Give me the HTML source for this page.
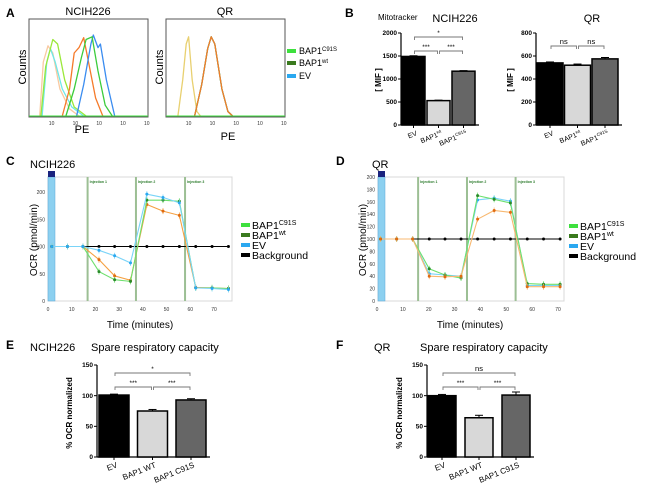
<!DOCTYPE html>
<html><head><meta charset="utf-8"><style>
body{margin:0;background:#fff}
svg{display:block;font-family:"Liberation Sans",sans-serif}
.pl{font-weight:bold;font-size:12px}
.t{font-size:11px}
.tk{font-size:5px;fill:#333}
.tkb{font-size:6.5px;font-weight:bold}
</style></head><body>
<svg id="fig" width="650" height="487" viewBox="0 0 650 487">
<text class="pl" x="6" y="17">A</text>
<text class="t" x="88" y="15" text-anchor="middle">NCIH226</text>
<text class="t" x="225" y="15" text-anchor="middle">QR</text>
<text class="t" x="26" y="67" text-anchor="middle" transform="rotate(-90 26 67)">Counts</text>
<text class="t" x="163" y="67" text-anchor="middle" transform="rotate(-90 163 67)">Counts</text>
<text class="t" x="82" y="133" text-anchor="middle">PE</text>
<text class="t" x="228" y="140" text-anchor="middle">PE</text>
<g font-size="9">
<rect x="287" y="49" width="9" height="4" fill="#3ee03e"/><text x="299" y="54">BAP1<tspan font-size="6" dy="-3">C91S</tspan></text>
<rect x="287" y="61" width="9" height="4" fill="#3a7a1e"/><text x="299" y="66">BAP1<tspan font-size="6" dy="-3">wt</tspan></text>
<rect x="287" y="74" width="9" height="4" fill="#2aa8f0"/><text x="299" y="79">EV</text>
</g>
<text class="pl" x="345" y="17">B</text>
<text x="378" y="20" font-size="8">Mitotracker</text>
<text class="t" x="455" y="22" text-anchor="middle">NCIH226</text>
<text class="t" x="592" y="22" text-anchor="middle">QR</text>
<text x="381" y="80" font-size="8" font-weight="bold" text-anchor="middle" transform="rotate(-90 381 80)">[ MIF ]</text>
<text x="513" y="80" font-size="8" font-weight="bold" text-anchor="middle" transform="rotate(-90 513 80)">[ MIF ]</text>
<text class="pl" x="6" y="165">C</text>
<text class="t" x="30" y="168">NCIH226</text>
<text class="pl" x="336" y="165">D</text>
<text class="t" x="372" y="168">QR</text>
<text x="37" y="240" font-size="10" text-anchor="middle" transform="rotate(-90 37 240)">OCR (pmol/min)</text>
<text x="366" y="240" font-size="10" text-anchor="middle" transform="rotate(-90 366 240)">OCR (pmol/min)</text>
<text x="140" y="328" font-size="10" text-anchor="middle">Time (minutes)</text>
<text x="470" y="328" font-size="10" text-anchor="middle">Time (minutes)</text>
<text class="pl" x="6" y="349">E</text>
<text class="t" x="30" y="351">NCIH226</text>
<text class="t" x="91" y="351">Spare respiratory capacity</text>
<text class="pl" x="336" y="349">F</text>
<text class="t" x="374" y="351">QR</text>
<text class="t" x="420" y="351">Spare respiratory capacity</text>
<text x="72" y="413" font-size="8" font-weight="bold" text-anchor="middle" transform="rotate(-90 72 413)">% OCR normalized</text>
<text x="402" y="413" font-size="8" font-weight="bold" text-anchor="middle" transform="rotate(-90 402 413)">% OCR normalized</text>
<g id="dyn"></g>
</svg>
<script>
const aNcihPeach=[[9,0],[12,60],[16,78],[20,70],[26,30],[34,8],[42,0]];
const aNcihYellow=[[10,0],[14,55],[20,85],[24,80],[30,40],[38,10],[48,0]];
const aNcihCyan=[[11,0],[15,60],[18,75],[22,60],[28,30],[36,10],[46,0]];
const aNcihOrange=[[28,0],[34,30],[38,70],[42,76],[46,87],[50,60],[56,20],[62,0]];
const aNcihGreen=[[31,0],[38,30],[44,65],[48,85],[53,88],[58,50],[64,12],[70,0]];
const aNcihBlue=[[40,0],[46,35],[52,80],[54,90],[58,76],[60,80],[65,40],[72,0]];
const aQrLow=[[10,0],[14,40],[17,80],[19,88],[22,40],[26,5],[29,0]];
const aQrHigh=[[24,0],[30,35],[35,75],[38,88],[41,80],[47,30],[52,5],[56,0]];
const bCats=["EV","BAP1wt","BAP1C91S"];
const bNcihVals=[1490,530,1170];
const bNcihErr=[15,10,12];
const bQrVals=[540,520,575];
const bQrErr=[8,10,12];
const bNcihTicks=[0,500,1000,1500,2000];
const bQrTicks=[0,200,400,600,800];
const cTimes=[1.6,8.2,14.7,21.5,28.1,34.8,41.7,48.5,55.4,62.3,69.2,76.1];
const cEV=[100,100,100,93,83,70,196,190,180,24,23,21];
const cC91S=[100,100,100,54,39,36,185,185,183,24,24,23];
const cWT=[100,100,100,76,46,38,177,165,157,25,24,23];
const cBg=[100,100,100,100,100,100,100,100,100,100,100,100];
const cInj=[16.7,37.1,57.8];
const cYTicks=[0,50,100,150,200];
const xTicks=[0,10,20,30,40,50,60,70];
const dTimes=[1.4,7.6,13.8,20.2,26.3,32.5,38.9,45.3,51.6,58.1,64.4,70.8];
const dC91S=[100,100,100,52,42,37,170,164,158,28,27,27];
const dEV=[100,100,100,44,42,40,163,166,161,25,25,25];
const dWT=[100,100,100,40,39,40,132,146,143,23,23,23];
const dBg=[100,100,100,100,100,100,100,100,100,100,100,100];
const dInj=[15.9,34.8,53.6];
const dYTicks=[0,20,40,60,80,100,120,140,160,180,200];
const efCats=["EV","BAP1 WT","BAP1 C91S"];
const eVals=[101,75,93];
const eErr=[1.5,2.5,2];
const fVals=[100,64,101];
const fErr=[2,4,5];
const efTicks=[0,50,100,150];

const NS="http://www.w3.org/2000/svg";
const root=document.getElementById('dyn');
function el(tag,attrs,parent){const e=document.createElementNS(NS,tag);for(const k in attrs)e.setAttribute(k,attrs[k]);(parent||root).appendChild(e);return e;}
function txt(s,attrs,parent){const e=el('text',attrs,parent);e.textContent=s;return e;}

function histo(box,curves){
  const g=el('g',{});
  
  
  el('rect',{x:box.x,y:box.y,width:box.w,height:box.h,fill:'none',stroke:'#555','stroke-width':1},g);
  const px=v=>box.x+v/100*box.w, py=c=>box.y+box.h-1-c/100*(box.h-8);
  for(let i=0;i<5;i++){txt('10',{x:box.x+box.w*(0.2+i*0.2)-4,y:box.y+box.h+8,class:'tk'},g);}
  curves.forEach(c=>{
    const d=c.pts.map((p,i)=>(i?'L':'M')+px(p[0]).toFixed(1)+','+py(p[1]).toFixed(1)).join('');
    const p=el('path',{d:d,fill:'none',stroke:c.col,'stroke-width':1.3,'stroke-linejoin':'round'},g);
    
    
  });
  el('line',{x1:box.x,y1:box.y+box.h-1,x2:box.x+box.w,y2:box.y+box.h-1,stroke:'#3ee03e','stroke-width':1},g);
}
histo({x:29,y:19,w:119,h:98},[
  {pts:aNcihPeach,col:'#f9c9a0',name:'ncih-peach-curve'},
  {pts:aNcihCyan,col:'#6ee8e8',name:'ncih-cyan-curve'},
  {pts:aNcihYellow,col:'#9be83a',name:'ncih-yellow-curve'},
  {pts:aNcihOrange,col:'#f57a2a',name:'ncih-orange-curve'},
  {pts:aNcihBlue,col:'#3a8cf0',name:'ncih-blue-curve'},
  {pts:aNcihGreen,col:'#3ccc3c',name:'ncih-green-curve'}]);
histo({x:166,y:19,w:119,h:98},[
  {pts:aQrLow,col:'#e8d070',name:'qr-low-curve'},
  {pts:aQrHigh,col:'#2aa8f0',name:'qr-blue-curve'},
  {pts:aQrHigh,col:'#3ccc3c',name:'qr-green-curve'},
  {pts:aQrHigh,col:'#f57a2a',name:'qr-orange-curve'}]);

function bars(o){
  const g=el('g',{});
  
  
  const y=v=>o.yb-v/o.max*(o.yb-o.yt);
  const bx=i=>o.x0+o.pad+i*o.step;
  el('line',{x1:o.x0,y1:o.yt,x2:o.x0,y2:o.yb,stroke:'#000','stroke-width':1.2},g);
  el('line',{x1:o.x0,y1:o.yb,x2:bx(o.vals.length-1)+o.bw+4,y2:o.yb,stroke:'#000','stroke-width':1.2},g);
  o.ticks.forEach(t=>{
    el('line',{x1:o.x0-3,y1:y(t),x2:o.x0,y2:y(t),stroke:'#000'},g);
    txt(String(t),{x:o.x0-4,y:y(t)+2.2,'text-anchor':'end',class:'tkb'},g);
  });
  const cols=['#000','#d8d8d8','#666'];
  o.vals.forEach((v,i)=>{
    const x=bx(i);
    el('line',{x1:x+o.bw/2,y1:y(v+o.err[i]),x2:x+o.bw/2,y2:y(v),stroke:'#000'},g);
    el('line',{x1:x+o.bw/2-4,y1:y(v+o.err[i]),x2:x+o.bw/2+4,y2:y(v+o.err[i]),stroke:'#000'},g);
    const r=el('rect',{x:x,y:y(v),width:o.bw,height:o.yb-y(v),fill:cols[i],stroke:'#000','stroke-width':1.5},g);
    
    
    el('line',{x1:x+o.bw/2,y1:o.yb,x2:x+o.bw/2,y2:o.yb+3,stroke:'#000'},g);
    const lx=x+o.bw/2+4, ly=o.yb+10;
    const t=el('text',{x:lx,y:ly,'text-anchor':'end','font-size':o.fs,transform:'rotate(-22 '+lx+' '+ly+')'},g);
    const m=o.cats[i].match(/^BAP1(wt|C91S)$/);
    if(m){t.textContent='BAP1';const s=el('tspan',{'font-size':o.fs*0.65,dy:-3},t);s.textContent=m[1];}
    else t.textContent=o.cats[i];
  });
  (o.brackets||[]).forEach(b=>{
    const x1=bx(b[0])+o.bw/2, x2=bx(b[1])+o.bw/2, yy=b[2];
    el('path',{d:`M${x1+1},${yy+3}V${yy}H${x2-1}V${yy+3}`,fill:'none',stroke:'#777','stroke-width':0.9},g);
    txt(b[3],{x:(x1+x2)/2,y:yy-2,'text-anchor':'middle','font-size':b[3]=='ns'?7.5:6.5},g);
  });
}
bars({name:'b-ncih226-chart',x0:401,yt:33,yb:125,max:2000,ticks:bNcihTicks,vals:bNcihVals,err:bNcihErr,cats:bCats,pad:1,step:25,bw:23,fs:7,
  brackets:[[0,1,51,'***'],[1,2,51,'***'],[0,2,37,'*']]});
bars({name:'b-qr-chart',x0:536,yt:33,yb:125,max:800,ticks:bQrTicks,vals:bQrVals,err:bQrErr,cats:bCats,pad:1,step:27.5,bw:26,fs:7,
  brackets:[[0,1,46,'ns'],[1,2,46,'ns']]});
bars({name:'e-chart',x0:97,yt:365,yb:457,max:150,ticks:efTicks,vals:eVals,err:eErr,cats:efCats,pad:2,step:38.5,bw:30,fs:8,
  brackets:[[0,1,387,'***'],[1,2,387,'***'],[0,2,373,'*']]});
bars({name:'f-chart',x0:427,yt:365,yb:457,max:150,ticks:efTicks,vals:fVals,err:fErr,cats:efCats,pad:1,step:37,bw:28,fs:8,
  brackets:[[0,1,387,'***'],[1,2,387,'***'],[0,2,373,'ns']]});

function ocr(o){
  const g=el('g',{});
  
  
  const x=t=>o.x0+t*o.ux, y=v=>o.y0-v*o.uy;
  el('rect',{x:o.px,y:177,width:o.pw,height:124,fill:'#fff',stroke:'#d8d8d8'},g);
  el('rect',{x:o.px,y:177,width:7,height:124,fill:'#8cd0f0',stroke:'#5aa8d8','stroke-width':0.5},g);
  el('rect',{x:o.px,y:171,width:7,height:6,fill:'#1a237e'},g);
  o.ticks.forEach(t=>txt(String(t),{x:o.px-3,y:y(t)+2,'text-anchor':'end',class:'tk'},g));
  xTicks.forEach(t=>txt(String(t),{x:x(t),y:311,'text-anchor':'middle',class:'tk'},g));
  o.inj.forEach((t,i)=>{
    el('line',{x1:x(t),y1:177,x2:x(t),y2:301,stroke:'#9cbf94','stroke-width':2},g);
    txt('Injection '+(i+1),{x:x(t)+2,y:183,'font-size':3.5,fill:'#2a7a2a','font-weight':'bold'},g);
  });
  o.series.forEach(s=>{
    const d=s.v.map((v,i)=>(i?'L':'M')+x(o.t[i]).toFixed(1)+','+y(v).toFixed(1)).join('');
    const p=el('path',{d:d,fill:'none',stroke:s.col,'stroke-width':1.1},g);
    
    
    s.v.forEach((v,i)=>{
      if(s.err){el('line',{x1:x(o.t[i]),y1:y(v)-3,x2:x(o.t[i]),y2:y(v)+3,stroke:s.col,'stroke-width':0.8},g);}
      el('circle',{cx:x(o.t[i]),cy:y(v),r:1.5,fill:s.mk},g);
    });
  });
  const lg=el('g',{'font-size':10.5},g);
  
  
  const L=[['#3ee03e','BAP1','C91S'],['#3a7a1e','BAP1','wt'],['#2aa8f0','EV',''],['#000','Background','']];
  L.forEach((l,i)=>{
    const yy=o.ly[i];
    el('rect',{x:o.lx,y:yy-2,width:9,height:4,fill:l[0]},lg);
    const t=el('text',{x:o.lx+11,y:yy+4},lg);t.textContent=l[1];
    if(l[2]){const s=el('tspan',{'font-size':7,dy:-4},t);s.textContent=l[2];}
  });
}
ocr({name:'c-ocr-chart',x0:48,ux:2.371,y0:301,uy:0.545,px:48,pw:184,ticks:cYTicks,inj:cInj,t:cTimes,lx:241,ly:[225,235,245,255],
  series:[{v:cBg,col:'#000',mk:'#000',name:'c-background-line'},
          {v:cWT,col:'#f5a040',mk:'#e06a10',err:1,name:'c-bap1wt-line'},
          {v:cC91S,col:'#6ee06e',mk:'#2a8a2a',err:1,name:'c-bap1c91s-line'},
          {v:cEV,col:'#7ad4f8',mk:'#2aa8f0',err:1,name:'c-ev-line'}]});
ocr({name:'d-ocr-chart',x0:377,ux:2.586,y0:301,uy:0.62,px:378,pw:186,ticks:dYTicks,inj:dInj,t:dTimes,lx:569,ly:[226,236,246,256],
  series:[{v:dBg,col:'#000',mk:'#000',name:'d-background-line'},
          {v:dEV,col:'#7ad4f8',mk:'#2aa8f0',err:1,name:'d-ev-line'},
          {v:dC91S,col:'#6ee06e',mk:'#2a8a2a',err:1,name:'d-bap1c91s-line'},
          {v:dWT,col:'#f8b870',mk:'#e06a10',err:1,name:'d-bap1wt-line'}]});
</script>
</body></html>
